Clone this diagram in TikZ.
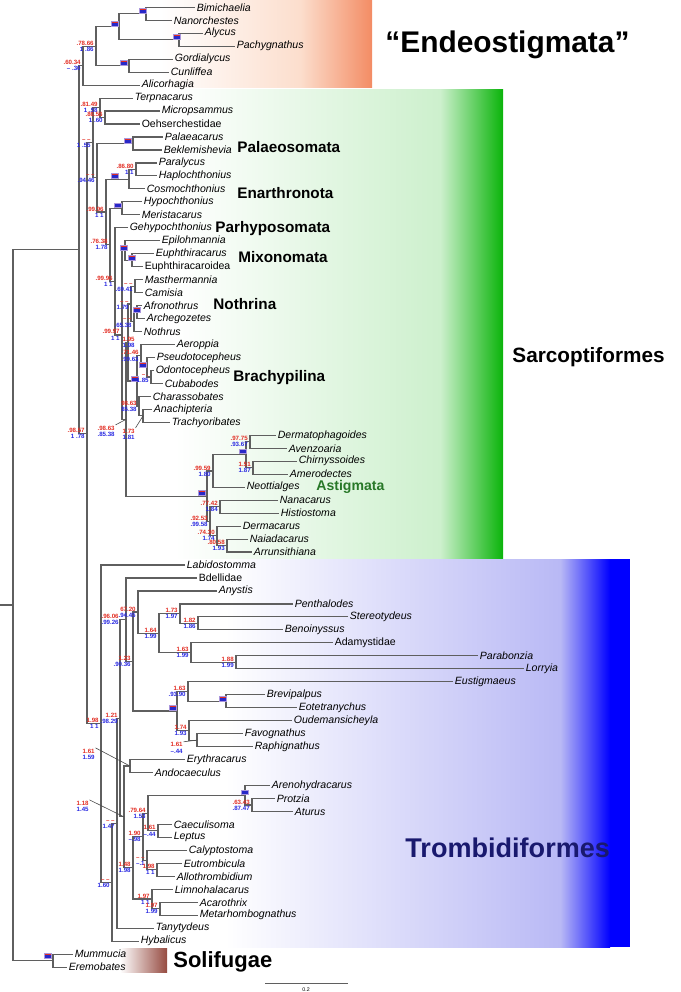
\documentclass[tikz,border=0pt]{standalone}
\usepackage{fontspec}
\setmainfont{Liberation Sans}
\usetikzlibrary{calc}

\definecolor{treegray}{RGB}{95,95,95}
\definecolor{supred}{RGB}{226,45,35}
\definecolor{supblue}{RGB}{40,40,225}
\definecolor{mkedge}{RGB}{170,150,220}
\definecolor{mkblue}{RGB}{40,40,200}
\definecolor{astig}{RGB}{40,120,40}
\definecolor{tromb}{RGB}{25,25,110}
\definecolor{endeoA}{RGB}{252,222,205}
\definecolor{endeoB}{RGB}{243,140,100}
\definecolor{sarcA}{RGB}{205,240,205}
\definecolor{sarcB}{RGB}{10,180,10}
\definecolor{trA}{RGB}{185,185,245}
\definecolor{solB}{RGB}{150,75,65}

\tikzset{
  branch/.style={draw=treegray,line width=0.65pt},
  lead/.style={draw=black!70,line width=0.35pt},
  tip/.style={anchor=west,inner sep=0.8pt,font=\fontsize{6}{7}\selectfont\itshape},
  tipu/.style={tip,font=\fontsize{6}{7}\selectfont\upshape},
  supr/.style={anchor=south east,inner sep=0.3pt,xshift=-0.03cm,text=supred,font=\fontsize{3.5}{4}\selectfont\bfseries},
  supb/.style={anchor=north east,inner sep=0.3pt,xshift=-0.03cm,text=supblue,font=\fontsize{3.5}{4}\selectfont\bfseries},
  clade/.style={anchor=west,inner sep=0pt,font=\fontsize{8.7}{10}\selectfont\bfseries},
  bigclade/.style={anchor=west,inner sep=0pt,font=\fontsize{12}{14}\selectfont\bfseries},
  mkbox/.style={draw=mkedge,fill=mkblue,line width=0.4pt,minimum width=0.13cm,minimum height=0.095cm,inner sep=0pt,
    path picture={\fill[supred] (path picture bounding box.north west) rectangle ([yshift=-0.03cm]path picture bounding box.north east);}}
}
\newcommand{\supp}[4][]{\node[supr,#1] (#2lr) at (#2) {#3}; \node[supb,#1] (#2lb) at (#2) {#4};}

\begin{document}
\begin{tikzpicture}[x=0.02cm,y=-0.2594cm]
  \useasboundingbox (0,-0.563) rectangle (680,75.92);
  % cajas de color
  \shade[left color=white,right color=endeoA] (160,-0.563) rectangle (300,6.22);
  \shade[left color=endeoA,right color=endeoB] (300,-0.563) rectangle (372,6.22);
  \shade[left color=white,right color=sarcA] (175,6.3) rectangle (440,42.46);
  \shade[left color=sarcA,right color=sarcB] (440,6.3) rectangle (503,42.46);
  \shade[left color=white,right color=trA] (225,42.54) rectangle (560,72.45);
  \shade[left color=trA,right color=blue] (560,42.54) rectangle (610,72.45);
  \fill[blue] (610,42.54) rectangle (630,72.45);
  \shade[left color=white,right color=solB] (120,72.6) rectangle (167,74.45);

  % terminales
  \node[tip] (bim) at (195,0) {Bimichaelia};
  \node[tip] (nanor) at (172,1) {Nanorchestes};
  \node[tip] (aly) at (203,2) {Alycus};
  \node[tip] (pac) at (235,3) {Pachygnathus};
  \node[tip] (gor) at (173,4) {Gordialycus};
  \node[tip] (cun) at (169,5) {Cunliffea};
  \node[tip] (ali) at (140,6) {Alicorhagia};
  \node[tip] (ter) at (133,7) {Terpnacarus};
  \node[tip] (mic) at (160,8) {Micropsammus};
  \node[tipu] (oeh) at (140,9) {Oehserchestidae};
  \node[tip] (pal) at (163,10) {Palaeacarus};
  \node[tip] (bek) at (162,11) {Beklemishevia};
  \node[tip] (par) at (157,12) {Paralycus};
  \node[tip] (hap) at (157,13) {Haplochthonius};
  \node[tip] (cos) at (145,14) {Cosmochthonius};
  \node[tip] (hyp) at (142,15) {Hypochthonius};
  \node[tip] (mer) at (140,16) {Meristacarus};
  \node[tip] (geh) at (128,17) {Gehypochthonius};
  \node[tip] (epi) at (160,18) {Epilohmannia};
  \node[tip] (eph) at (154,19) {Euphthiracarus};
  \node[tipu] (epd) at (143,20) {Euphthiracaroidea};
  \node[tip] (mas) at (143,21) {Masthermannia};
  \node[tip] (cam) at (143,22) {Camisia};
  \node[tip] (afr) at (142,23) {Afronothrus};
  \node[tip] (arc) at (145,24) {Archegozetes};
  \node[tip] (noth) at (142,25) {Nothrus};
  \node[tip] (aero) at (175,26) {Aeroppia};
  \node[tip] (pse) at (155,27) {Pseudotocepheus};
  \node[tip] (odo) at (154,28) {Odontocepheus};
  \node[tip] (cub) at (163,29) {Cubabodes};
  \node[tip] (cha) at (151,30) {Charassobates};
  \node[tip] (ana) at (152,31) {Anachipteria};
  \node[tip] (tra) at (170,32) {Trachyoribates};
  \node[tip] (der) at (276,33) {Dermatophagoides};
  \node[tip] (ave) at (287,34) {Avenzoaria};
  \node[tip] (chi) at (297,35) {Chirnyssoides};
  \node[tip] (ame) at (288,36) {Amerodectes};
  \node[tip] (neo) at (245,37) {Neottialges};
  \node[tip] (nanac) at (278,38) {Nanacarus};
  \node[tip] (hist) at (279,39) {Histiostoma};
  \node[tip] (dma) at (241,40) {Dermacarus};
  \node[tip] (nai) at (248,41) {Naiadacarus};
  \node[tip] (arr) at (252,42) {Arrunsithiana};
  \node[tip] (lab) at (185,43) {Labidostomma};
  \node[tipu] (bde) at (197,44) {Bdellidae};
  \node[tip] (anys) at (217,45) {Anystis};
  \node[tip] (pen) at (293,46) {Penthalodes};
  \node[tip] (ste) at (348,47) {Stereotydeus};
  \node[tip] (ben) at (283,48) {Benoinyssus};
  \node[tipu] (ada) at (333,49) {Adamystidae};
  \node[tip] (pab) at (478,50) {Parabonzia};
  \node[tip] (lor) at (524,51) {Lorryia};
  \node[tip] (eus) at (453,52) {Eustigmaeus};
  \node[tip] (bre) at (265,53) {Brevipalpus};
  \node[tip] (eot) at (297,54) {Eotetranychus};
  \node[tip] (oud) at (292,55) {Oudemansicheyla};
  \node[tip] (fav) at (243,56) {Favognathus};
  \node[tip] (rap) at (253,57) {Raphignathus};
  \node[tip] (ery) at (185,58) {Erythracarus};
  \node[tip] (andc) at (153,59) {Andocaeculus};
  \node[tip] (aren) at (270,60) {Arenohydracarus};
  \node[tip] (pro) at (275,61) {Protzia};
  \node[tip] (atu) at (293,62) {Aturus};
  \node[tip] (cae) at (172,63) {Caeculisoma};
  \node[tip] (lep) at (172,64) {Leptus};
  \node[tip] (cal) at (187,65) {Calyptostoma};
  \node[tip] (eut) at (182,66) {Eutrombicula};
  \node[tip] (allo) at (175,67) {Allothrombidium};
  \node[tip] (lim) at (173,68) {Limnohalacarus};
  \node[tip] (aca) at (198,69) {Acarothrix};
  \node[tip] (met) at (198,70) {Metarhombognathus};
  \node[tip] (tan) at (154,71) {Tanytydeus};
  \node[tip] (hyb) at (139,72) {Hybalicus};
  \node[tip] (mum) at (73,73) {Mummucia};
  \node[tip] (ere) at (67,74) {Eremobates};

  % nodos internos
  \coordinate (root) at (13,46.085);
  \coordinate (rootend) at (0,46.085);
  \coordinate (acar) at (79,18.67);
  \coordinate (endeo) at (83,4.5);
  \coordinate (e5) at (96,3.0);
  \coordinate (e3) at (119,1.5);
  \coordinate (e1) at (146,0.5);
  \coordinate (e2) at (179,2.5);
  \coordinate (e4) at (129,4.5);
  \coordinate (st) at (87,32.84);
  \coordinate (sarc) at (93,10.445);
  \coordinate (nt) at (100,7.75);
  \coordinate (mo) at (105,8.5);
  \coordinate (v) at (97,13.14);
  \coordinate (pa) at (133,10.5);
  \coordinate (w) at (106,15.78);
  \coordinate (en) at (129,13.25);
  \coordinate (ph) at (136,12.5);
  \coordinate (x1) at (110,18.31);
  \coordinate (hm) at (122,15.5);
  \coordinate (x2) at (115,21.13);
  \coordinate (x3) at (122,25.26);
  \coordinate (mx) at (125,18.75);
  \coordinate (eu) at (132,19.5);
  \coordinate (x4) at (126,31.77);
  \coordinate (n5) at (128,25.84);
  \coordinate (n4) at (131,22.875);
  \coordinate (n1) at (135,21.5);
  \coordinate (n3) at (134,24.25);
  \coordinate (n2) at (137,23.5);
  \coordinate (brc) at (137,28.8125);
  \coordinate (ae) at (141,26.875);
  \coordinate (ps) at (147,27.75);
  \coordinate (oc) at (151,28.5);
  \coordinate (ch) at (139,30.75);
  \coordinate (anatr) at (143,31.5);
  \coordinate (as) at (207,37.6875);
  \coordinate (a4) at (213,35.75);
  \coordinate (a3) at (246,34.5);
  \coordinate (a1) at (250,33.5);
  \coordinate (a2) at (253,35.5);
  \coordinate (a8) at (210,39.625);
  \coordinate (a5) at (220,38.5);
  \coordinate (a7) at (217,40.75);
  \coordinate (a6) at (227,41.5);
  \coordinate (t0) at (101,55.23);
  \coordinate (t1) at (112,67.455);
  \coordinate (t2) at (117,62.91);
  \coordinate (t3) at (120,54.82);
  \coordinate (tc) at (126,47.22);
  \coordinate (td) at (133,50.4375);
  \coordinate (ta) at (138,46.625);
  \coordinate (tb) at (159,48.25);
  \coordinate (pe) at (180,46.75);
  \coordinate (sb) at (198,47.5);
  \coordinate (ad) at (191,49.75);
  \coordinate (pl) at (236,50.5);
  \coordinate (te) at (177,54.25);
  \coordinate (eg) at (188,52.75);
  \coordinate (be) at (226,53.5);
  \coordinate (ou) at (189,55.75);
  \coordinate (fr) at (197,56.5);
  \coordinate (tf) at (124,62.42);
  \coordinate (ea) at (130,58.5);
  \coordinate (tr) at (133,66.34);
  \coordinate (pg) at (143,63.94);
  \coordinate (wm) at (148,62.125);
  \coordinate (ar) at (245,60.75);
  \coordinate (pat) at (252,61.5);
  \coordinate (cl) at (158,63.5);
  \coordinate (ca) at (147,65.75);
  \coordinate (eal) at (157,66.5);
  \coordinate (lh) at (152,68.75);
  \coordinate (am) at (160,69.5);
  \coordinate (so) at (53,73.5);

  % ramas
  \draw[branch] (root) -- (rootend);
  \draw[branch] (acar) -| (root) |- (so);
  \draw[branch] (mum.west) -| (so) |- (ere.west);
  \draw[branch] (endeo) -| (acar) |- (st);
  \draw[branch] (e5) -| (endeo) |- (ali.west);
  \draw[branch] (e3) -| (e5) |- (e4);
  \draw[branch] (e1) -| (e3) |- (e2);
  \draw[branch] (bim.west) -| (e1) |- (nanor.west);
  \draw[branch] (aly.west) -| (e2) |- (pac.west);
  \draw[branch] (gor.west) -| (e4) |- (cun.west);
  \draw[branch] (sarc) -| (st) |- (t0);
  \draw[branch] (nt) -| (sarc) |- (v);
  \draw[branch] (ter.west) -| (nt) |- (mo);
  \draw[branch] (mic.west) -| (mo) |- (oeh.west);
  \draw[branch] (pa) -| (v) |- (w);
  \draw[branch] (pal.west) -| (pa) |- (bek.west);
  \draw[branch] (en) -| (w) |- (x1);
  \draw[branch] (ph) -| (en) |- (cos.west);
  \draw[branch] (par.west) -| (ph) |- (hap.west);
  \draw[branch] (hm) -| (x1) |- (x2);
  \draw[branch] (hyp.west) -| (hm) |- (mer.west);
  \draw[branch] (geh.west) -| (x2) |- (x3);
  \draw[branch] (mx) -| (x3) |- (x4);
  \draw[branch] (epi.west) -| (mx) |- (eu);
  \draw[branch] (eph.west) -| (eu) |- (epd.west);
  \draw[branch] (n5) -| (x4) |- (as);
  \draw[branch] (n4) -| (n5) |- (brc);
  \draw[branch] (n1) -| (n4) |- (n3);
  \draw[branch] (mas.west) -| (n1) |- (cam.west);
  \draw[branch] (n2) -| (n3) |- (noth.west);
  \draw[branch] (afr.west) -| (n2) |- (arc.west);
  \draw[branch] (ae) -| (brc) |- (ch);
  \draw[branch] (aero.west) -| (ae) |- (ps);
  \draw[branch] (pse.west) -| (ps) |- (oc);
  \draw[branch] (odo.west) -| (oc) |- (cub.west);
  \draw[branch] (cha.west) -| (ch) |- (anatr);
  \draw[branch] (ana.west) -| (anatr) |- (tra.west);
  \draw[branch] (a4) -| (as) |- (a8);
  \draw[branch] (a3) -| (a4) |- (neo.west);
  \draw[branch] (a1) -| (a3) |- (a2);
  \draw[branch] (der.west) -| (a1) |- (ave.west);
  \draw[branch] (chi.west) -| (a2) |- (ame.west);
  \draw[branch] (a5) -| (a8) |- (a7);
  \draw[branch] (nanac.west) -| (a5) |- (hist.west);
  \draw[branch] (dma.west) -| (a7) |- (a6);
  \draw[branch] (nai.west) -| (a6) |- (arr.west);
  \draw[branch] (lab.west) -| (t0) |- (t1);
  \draw[branch] (t2) -| (t1) |- (hyb.west);
  \draw[branch] (t3) -| (t2) |- (tan.west);
  \draw[branch] (tc) -| (t3) |- (tf);
  \draw[branch] (bde.west) -| (tc) |- (td);
  \draw[branch] (ta) -| (td) |- (te);
  \draw[branch] (anys.west) -| (ta) |- (tb);
  \draw[branch] (pe) -| (tb) |- (ad);
  \draw[branch] (pen.west) -| (pe) |- (sb);
  \draw[branch] (ste.west) -| (sb) |- (ben.west);
  \draw[branch] (ada.west) -| (ad) |- (pl);
  \draw[branch] (pab.west) -| (pl) |- (lor.west);
  \draw[branch] (eg) -| (te) |- (ou);
  \draw[branch] (eus.west) -| (eg) |- (be);
  \draw[branch] (bre.west) -| (be) |- (eot.west);
  \draw[branch] (oud.west) -| (ou) |- (fr);
  \draw[branch] (fav.west) -| (fr) |- (rap.west);
  \draw[branch] (ea) -| (tf) |- (tr);
  \draw[branch] (ery.west) -| (ea) |- (andc.west);
  \draw[branch] (pg) -| (tr) |- (lh);
  \draw[branch] (wm) -| (pg) |- (ca);
  \draw[branch] (ar) -| (wm) |- (cl);
  \draw[branch] (aren.west) -| (ar) |- (pat);
  \draw[branch] (pro.west) -| (pat) |- (atu.west);
  \draw[branch] (cae.west) -| (cl) |- (lep.west);
  \draw[branch] (cal.west) -| (ca) |- (eal);
  \draw[branch] (eut.west) -| (eal) |- (allo.west);
  \draw[branch] (lim.west) -| (lh) |- (am);
  \draw[branch] (aca.west) -| (am) |- (met.west);

  % marcas
  \node[mkbox] (mk1) at ([xshift=-0.06cm,yshift=0.06cm]e1) {};
  \node[mkbox] (mk2) at ([xshift=-0.04cm,yshift=0.06cm]e2) {};
  \node[mkbox] (mk3) at ([xshift=-0.08cm,yshift=0.06cm]e3) {};
  \node[mkbox] (mk4) at ([xshift=-0.1cm,yshift=0.06cm]e4) {};
  \node[mkbox] (mk5) at ([xshift=-0.1cm,yshift=0.06cm]pa) {};
  \node[mkbox] (mk6) at ([xshift=-0.28cm,yshift=0.06cm]en) {};
  \node[mkbox] (mk7) at ([xshift=-0.08cm,yshift=0.06cm]hm) {};
  \node[mkbox] (mk8) at ([xshift=-0.02cm,yshift=0.06cm]mx) {};
  \node[mkbox] (mk9) at ([yshift=0.05cm]eu) {};
  \node[mkbox] (mk10) at ([yshift=0.04cm]n2) {};
  \node[mkbox] (mk11) at ([xshift=-0.08cm,yshift=0.05cm]ps) {};
  \node[mkbox] (mk12) at ([xshift=-0.04cm,yshift=0.04cm]brc) {};
  \node[mkbox] (mk13) at ([xshift=-0.06cm,yshift=0.07cm]a3) {};
  \node[mkbox] (mk14) at ([xshift=-0.1cm,yshift=0.06cm]as) {};
  \node[mkbox] (mk15) at ([xshift=-0.08cm,yshift=0.06cm]te) {};
  \node[mkbox] (mk16) at ([xshift=-0.06cm,yshift=0.05cm]be) {};
  \node[mkbox] (mk17) at ([yshift=0.06cm]ar) {};
  \node[mkbox] (mk18) at ([xshift=-0.1cm,yshift=0.09cm]so) {};

  % soportes
  \supp{e5}{.78.66}{1 .86}
  \supp{endeo}{.60.34}{-- .30}
  \supp{nt}{.81.49}{1 .58}
  \supp{mo}{.86.56}{1 .60}
  \supp{sarc}{-- --}{1 .55}
  \supp{v}{-- --}{.94.46}
  \supp{ph}{.86.80}{1 1}
  \supp{w}{.99.96}{1 1}
  \supp{x1}{.76.38}{1.78}
  \supp{x2}{.99.96}{1 1}
  \supp{n1}{-- --}{.69.41}
  \supp{n4}{-- --}{1.79}
  \supp{n3}{-- --}{.65.38}
  \supp{x3}{.99.97}{1 1}
  \supp[xshift=0.18cm]{n5}{1.95}{1.98}
  \supp{ae}{.71.46}{.99.63}
  \supp{oc}{-- .}{1.85}
  \supp{ch}{98.63}{85.38}
  \supp{st}{.98.57}{1 .78}
  \supp{a1}{.97.75}{.93.67}
  \supp{a2}{1.51}{1.87}
  \supp{a4}{.99.59}{1.80}
  \supp{a5}{.77.42}{1.84}
  \supp{a8}{.92.53}{.99.58}
  \supp{a7}{.74.30}{1.74}
  \supp{a6}{.80.58}{1.93}
  \supp{t0}{1.98}{1 1}
  \supp[xshift=-0.1cm]{tc}{.96.06}{.99.26}
  \supp{ta}{67.20}{.94.45}
  \supp{pe}{1.73}{1.97}
  \supp{sb}{1.82}{1.86}
  \supp{tb}{1.64}{1.99}
  \supp{ad}{1.63}{1.99}
  \supp{pl}{1.88}{1.99}
  \supp{td}{1.23}{.90.36}
  \supp{eg}{1.63}{.93.90}
  \supp{ou}{1.74}{1.93}
  \supp{t3}{1.21}{.98.29}
  \supp{pat}{.63.43}{.87.47}
  \supp{wm}{.79.64}{1.53}
  \supp{cl}{1.61}{--.44}
  \supp{pg}{1.90}{--.98}
  \supp{ca}{-- --}{--.1}
  \supp{eal}{1.98}{1 1}
  \supp{tr}{1.48}{1.98}
  \supp{lh}{1.97}{1 1}
  \supp{am}{1.97}{1.99}
  \supp{t2}{-- --}{1.47}
  \supp{t1}{-- --}{1.60}
  % soportes con guia
  \coordinate (anatrl) at (137,32.9);
  \coordinate (x4l) at (117,32.67);
  \coordinate (frl) at (185,57.1);
  \coordinate (eacl) at (97,57.57);
  \coordinate (tfl) at (91,61.58);
  \supp{anatrl}{1.73}{1.81}
  \supp{x4l}{.98.63}{.85.38}
  \supp{frl}{1.61}{--.44}
  \supp{eacl}{1.61}{1.59}
  \supp{tfl}{1.18}{1.45}
  \draw[lead] (anatrllr.north east) -- (anatr);
  \draw[lead] (x4llr.north east) -- (x4);
  \draw[lead] (frllr.north east) -- (fr);
  \draw[lead] (eacllr.north east) -- (ea);
  \draw[lead] (tfllr.north east) -- (tf);

  % nombres de clados
  \node[clade] (lpal) at (237,10.77) {Palaeosomata};
  \node[clade] (lena) at (237,14.32) {Enarthronota};
  \node[clade] (lpar) at (215,17.02) {Parhyposomata};
  \node[clade] (lmix) at (238,19.25) {Mixonomata};
  \node[clade] (lnot) at (213,22.88) {Nothrina};
  \node[clade] (lbra) at (233,28.58) {Brachypilina};
  \node[clade,text=astig,font=\fontsize{8}{10}\selectfont\bfseries] (last) at (316,36.95) {Astigmata};
  \node[bigclade,font=\fontsize{17}{20}\selectfont\bfseries] (lend) at (385,2.91) {“Endeostigmata”};
  \node[bigclade,font=\fontsize{11.8}{14}\selectfont\bfseries] (lsar) at (512,26.96) {Sarcoptiformes};
  \node[bigclade,text=tromb,font=\fontsize{15.4}{18}\selectfont\bfseries] (ltro) at (405,64.8) {Trombidiformes};
  \node[bigclade,font=\fontsize{12.5}{15}\selectfont\bfseries] (lsol) at (173,73.6) {Solifugae};

  % escala
  \coordinate (scl) at (265,75.23);
  \coordinate (scr) at (348,75.23);
  \draw[branch,line width=0.5pt] (scl) -- (scr);
  \node[font=\fontsize{3}{3}\selectfont,inner sep=0pt] (sct) at (306,75.75) {0.2};
\end{tikzpicture}
\end{document}
